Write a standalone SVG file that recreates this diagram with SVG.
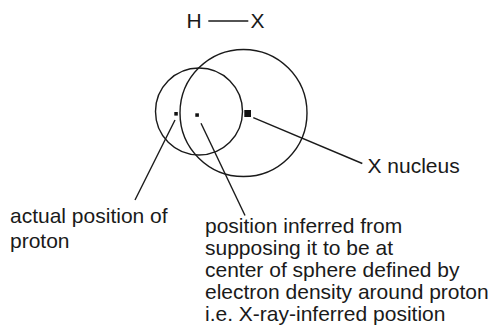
<svg xmlns="http://www.w3.org/2000/svg" width="496" height="334" viewBox="0 0 496 334">
<style>
text{font-family:"Liberation Sans",Arial,sans-serif;font-size:21px;fill:#1a1a1a}
.ln{stroke:#1a1a1a;stroke-width:1.4;fill:none}
.dot{fill:#111}
</style>
<rect width="496" height="334" fill="#fff"/>
<g id="molecule">
<text x="186.6" y="28">H</text>
<line class="ln" x1="208.3" y1="21" x2="248.3" y2="21"/>
<text x="250.5" y="28">X</text>
</g>
<g id="proton-sphere"><circle class="ln" cx="199" cy="111.5" r="43.5"/></g>
<g id="x-sphere"><circle class="ln" cx="243.5" cy="113" r="63.5"/></g>
<g id="actual-proton"><rect class="dot" x="174.3" y="112" width="3.5" height="3.6"/></g>
<g id="inferred-proton"><rect class="dot" x="195.3" y="113.3" width="3.6" height="3.5"/></g>
<g id="x-nucleus"><rect class="dot" x="244.3" y="110" width="6.7" height="7"/></g>
<g id="connectors">
<line class="ln" x1="253.3" y1="117.7" x2="362.3" y2="163.5"/>
<line class="ln" x1="175" y1="120" x2="135" y2="200"/>
<line class="ln" x1="201" y1="123.3" x2="245" y2="215.5"/>
</g>
<g id="label-x-nucleus"><text x="367.5" y="173.3">X nucleus</text></g>
<g id="label-actual">
<text x="10" y="222.5">actual position of</text>
<text x="10" y="247.8">proton</text>
</g>
<g id="label-inferred">
<text x="205" y="233.3">position inferred from</text>
<text x="205" y="255">supposing it to be at</text>
<text x="205" y="277">center of sphere defined by</text>
<text x="205" y="298.8">electron density around proton</text>
<text x="205" y="320.6">i.e. X-ray-inferred position</text>
</g>
</svg>
